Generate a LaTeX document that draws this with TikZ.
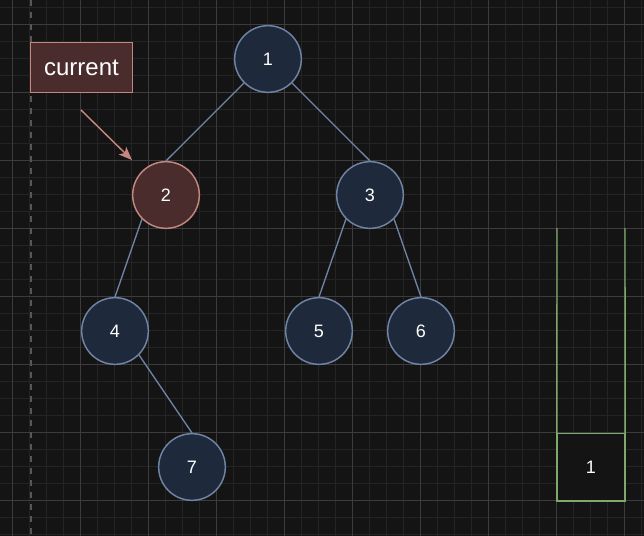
\documentclass[tikz,border=0pt]{standalone}
\usepackage{fontspec}
\setmainfont{Liberation Sans}
\usetikzlibrary{arrows.meta}
\definecolor{bg}{HTML}{141414}
\definecolor{gridminor}{HTML}{242424}
\definecolor{gridmajor}{HTML}{3C3C3C}
\definecolor{dashc}{HTML}{575757}
\definecolor{nodefill}{HTML}{1E2A3B}
\definecolor{nodeline}{HTML}{7084A6}
\definecolor{curfill}{HTML}{4A2C2C}
\definecolor{curline}{HTML}{C4877F}
\definecolor{stackc}{HTML}{7DAA6A}
\tikzset{
  treenode/.style={circle, draw=nodeline, fill=nodefill, line width=1.1pt,
    minimum size=50pt, inner sep=0pt, text=white,
    font=\fontsize{13.5}{16}\selectfont},
  curnode/.style={treenode, draw=curline, fill=curfill},
  labelbox/.style={rectangle, draw=curline, fill=curfill, line width=1.1pt,
    minimum width=76.5pt, minimum height=37.5pt, inner sep=0pt, text=white,
    font=\fontsize{18}{21}\selectfont},
  edge/.style={draw=nodeline, line width=1pt},
  pointer/.style={draw=curline, line width=1.1pt, -{Stealth[length=10pt,width=8pt,inset=2.5pt]}},
  stackbox/.style={rectangle, draw=stackc, fill=bg, line width=1.1pt,
    minimum width=50pt, minimum height=50pt, inner sep=0pt, text=white,
    font=\fontsize{13.5}{16}\selectfont},
  stackline/.style={draw=stackc, line width=1.1pt}
}
\begin{document}
\begin{tikzpicture}[x=0.75pt,y=-0.75pt]
\fill[bg] (0,0) rectangle (644,536);
\useasboundingbox (0,0) rectangle (644,536);
% grid
\foreach \x in {-4.5,12.5,...,650} \draw[gridminor, line width=0.75pt] (\x,0) -- (\x,536);
\foreach \y in {7,24,...,540} \draw[gridminor, line width=0.75pt] (0,\y) -- (644,\y);
\foreach \x in {12.5,80.5,...,650} \draw[gridmajor, line width=0.75pt] (\x,0) -- (\x,536);
\foreach \y in {24,92,...,540} \draw[gridmajor, line width=0.75pt] (0,\y) -- (644,\y);
% dashed line
\draw[dashc, line width=1.2pt, dash pattern=on 4.5pt off 4.5pt] (31,0) -- (31,536);
% tree nodes
\node[treenode] (n1) at (268,59) {1};
\node[curnode]  (n2) at (166,195) {2};
\node[treenode] (n3) at (370,195) {3};
\node[treenode] (n4) at (115,331) {4};
\node[treenode] (n5) at (319,331) {5};
\node[treenode] (n6) at (421,331) {6};
\node[treenode] (n7) at (192,467) {7};
% edges
\draw[edge] (n1.south west) -- (n2.north);
\draw[edge] (n1.south east) -- (n3.north);
\draw[edge] (n2.south west) -- (n4.north);
\draw[edge] (n3.south west) -- (n5.north);
\draw[edge] (n3.south east) -- (n6.north);
\draw[edge] (n4.south east) -- (n7.north);
% current label
\node[labelbox] (cur) at (81.5,67.5) {current};
\coordinate (ptrstart) at (81,110);
\coordinate (ptrend) at (132,160);
\draw[pointer] (ptrstart) -- (ptrend);
% stack
\node[stackbox] (s1) at (591,467) {1};
\coordinate (stackTL) at (557,228);
\coordinate (stackTR) at (625,228);
\draw[stackline] (stackTL) -- (s1.south west) -- (s1.south east) -- (stackTR);
\end{tikzpicture}
\end{document}
